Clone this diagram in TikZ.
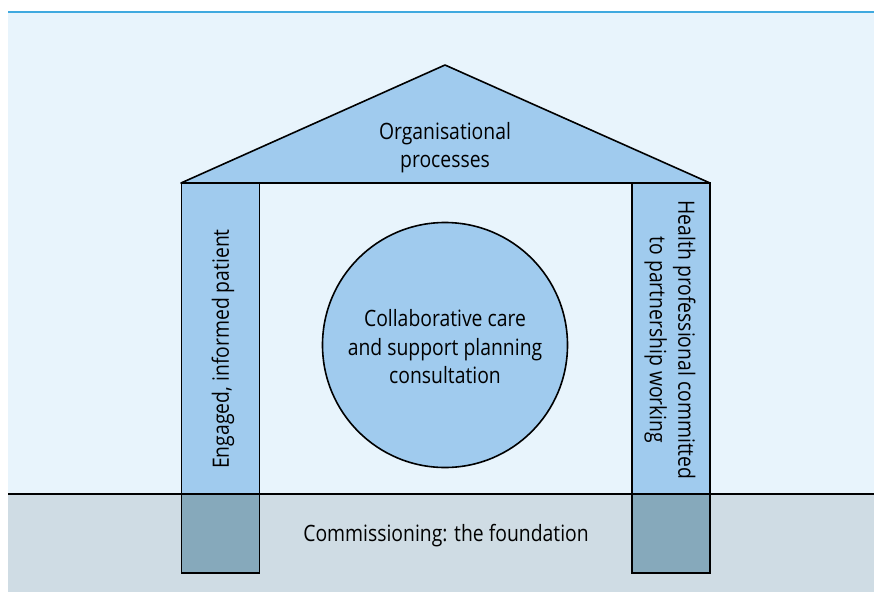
\documentclass[tikz,border=0pt]{standalone}
\usepackage{fontspec}
\setmainfont[FakeStretch=0.86]{Open Sans}
\usetikzlibrary{positioning}
\definecolor{skyback}{HTML}{E8F4FC}
\definecolor{topline}{HTML}{3FA9DF}
\definecolor{pillarblue}{HTML}{A0CBEE}
\definecolor{footing}{HTML}{86A9BB}
\definecolor{groundgray}{HTML}{CFDCE4}

\begin{document}
\begin{tikzpicture}[
    x=1pt, y=-1pt,
    font=\fontsize{22.5}{28.5}\selectfont,
    pillar/.style={
		rectangle,
		draw=black,
		line width=1.6pt,
		fill=pillarblue,
		minimum width=78pt,
		minimum height=311pt,
		inner sep=0pt
	},
	footblock/.style={
		pillar,
		fill=footing,
		minimum height=79pt
	},
	hub/.style={
		circle,
		draw=black,
		line width=1.6pt,
		fill=pillarblue,
		minimum size=245pt,
		inner sep=0pt
	},
	caption/.style={
		align=center,
		inner sep=0pt
	}
  ]
    \useasboundingbox (0,0) rectangle (874,592);
    % We start by placing the sky and the ground
  \fill [skyback] (8,12) rectangle (874,494);
  \fill [groundgray] (8,494) rectangle (874,592);
  \draw [topline, line width=2pt] (8,12) -- (874,12);

  % the roof
  \coordinate (eaveL) at (181,183);
  \coordinate (eaveR) at (710,183);
  \coordinate (apex) at (445,65);
  \draw [line width=1.6pt, fill=pillarblue, line join=round] (eaveL) -- (apex) -- (eaveR) -- cycle;
  \node [caption] (roof) at (445,147.5) {Organisational\\processes};

  % the two posts
  \node [pillar] (postL) at (220.5,338.5) {};
  \node [pillar] (postR) at (671,338.5) {};
  \node [footblock] (footL) at (220.5,533.5) {};
  \node [footblock] (footR) at (671,533.5) {};

  \coordinate (groundL) at (8,494);
  \coordinate (groundR) at (874,494);
  \draw [line width=1.6pt] (groundL) -- (groundR);

  \node [caption, rotate=90] (patient) at (223,349) {Engaged, informed patient};
  \node [caption, rotate=-90] (professional) at (670,340)
    {Health professional committed\\to partnership working};

  % the consultation in the middle
  \node [hub] (consult) at (445,345) {};
  \node [caption] (consultText) at (445,347)
    {Collaborative care\\and support planning\\consultation};

  \node [caption] (foundation) at (446,535.5) {Commissioning: the foundation};

\end{tikzpicture}
\end{document}
